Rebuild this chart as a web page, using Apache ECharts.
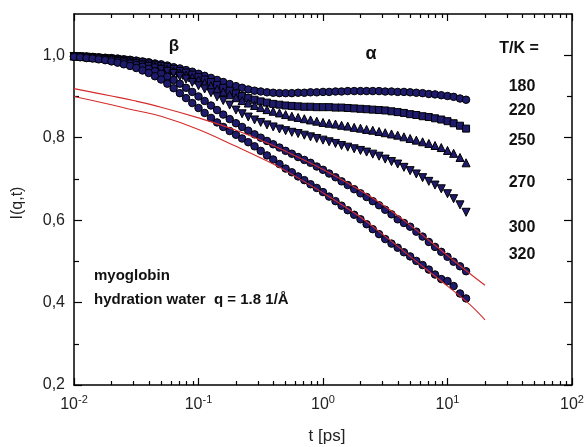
<!DOCTYPE html>
<html><head><meta charset="utf-8">
<script src="https://cdn.jsdelivr.net/npm/echarts@6/dist/echarts.min.js"></script>
<style>html,body{margin:0;padding:0;background:#fff}#c{width:588px;height:447px}</style>
</head><body><div id="c"></div>
<script>
// time grid in ps
const tPs = [0.01,0.0112,0.0126,0.0141,0.0158,0.0178,0.02,0.0224,0.0251,0.0282,
  0.0316,0.0355,0.0398,0.0447,0.0501,0.0562,0.0631,0.0708,0.0794,0.0891,
  0.1,0.112,0.126,0.141,0.158,0.178,0.2,0.224,0.251,0.282,
  0.316,0.355,0.398,0.447,0.501,0.562,0.631,0.708,0.794,0.891,
  1,1.12,1.26,1.41,1.58,1.78,2,2.24,2.51,2.82,
  3.16,3.55,3.98,4.47,5.01,5.62,6.31,7.08,7.94,8.91,
  10,11.2,12.6,14.1];
const I180 = [0.998,0.997,0.997,0.996,0.995,0.994,0.993,0.992,0.990,0.989,
  0.987,0.985,0.983,0.980,0.978,0.975,0.971,0.968,0.964,0.960,
  0.955,0.950,0.945,0.940,0.935,0.930,0.925,0.921,0.917,0.914,
  0.912,0.910,0.909,0.908,0.908,0.908,0.909,0.909,0.910,0.910,
  0.911,0.911,0.912,0.912,0.913,0.913,0.913,0.913,0.913,0.913,
  0.912,0.912,0.911,0.911,0.910,0.909,0.908,0.906,0.905,0.903,
  0.901,0.899,0.895,0.892];
const I220 = [0.998,0.997,0.996,0.995,0.994,0.993,0.992,0.990,0.989,0.987,
  0.985,0.983,0.980,0.977,0.974,0.971,0.967,0.962,0.958,0.953,
  0.947,0.941,0.935,0.928,0.921,0.914,0.907,0.901,0.896,0.892,
  0.888,0.885,0.882,0.880,0.878,0.877,0.876,0.875,0.875,0.874,
  0.874,0.874,0.873,0.873,0.872,0.871,0.870,0.869,0.868,0.867,
  0.866,0.864,0.862,0.860,0.857,0.855,0.852,0.850,0.847,0.844,
  0.840,0.835,0.829,0.822];
const I250 = [0.998,0.997,0.996,0.995,0.993,0.992,0.990,0.988,0.986,0.984,
  0.982,0.979,0.976,0.973,0.970,0.966,0.962,0.957,0.952,0.946,
  0.940,0.933,0.926,0.918,0.911,0.904,0.897,0.890,0.884,0.878,
  0.873,0.868,0.864,0.860,0.856,0.852,0.849,0.846,0.843,0.840,
  0.837,0.835,0.833,0.830,0.828,0.825,0.823,0.820,0.818,0.815,
  0.812,0.809,0.806,0.802,0.798,0.794,0.790,0.786,0.781,0.776,
  0.769,0.762,0.752,0.739];
const I270 = [0.997,0.996,0.995,0.993,0.992,0.990,0.988,0.986,0.984,0.981,
  0.979,0.976,0.973,0.969,0.965,0.961,0.956,0.949,0.942,0.934,
  0.926,0.918,0.909,0.899,0.890,0.879,0.867,0.858,0.850,0.843,
  0.837,0.831,0.826,0.821,0.817,0.813,0.810,0.806,0.802,0.798,
  0.794,0.790,0.786,0.781,0.777,0.773,0.769,0.765,0.760,0.755,
  0.748,0.742,0.736,0.728,0.720,0.712,0.703,0.694,0.685,0.676,
  0.664,0.652,0.637,0.619];
const I300 = [0.997,0.996,0.995,0.994,0.993,0.991,0.989,0.986,0.983,0.980,
  0.976,0.972,0.967,0.961,0.955,0.948,0.940,0.931,0.921,0.911,
  0.900,0.889,0.878,0.867,0.856,0.845,0.835,0.826,0.817,0.808,
  0.800,0.792,0.784,0.776,0.768,0.761,0.753,0.746,0.739,0.730,
  0.722,0.713,0.704,0.694,0.685,0.675,0.665,0.656,0.646,0.636,
  0.625,0.614,0.602,0.593,0.584,0.572,0.560,0.547,0.535,0.523,
  0.511,0.499,0.488,0.476];
const I320 = [0.996,0.995,0.993,0.992,0.990,0.988,0.985,0.982,0.978,0.974,
  0.969,0.963,0.957,0.949,0.941,0.931,0.920,0.908,0.896,0.884,
  0.872,0.860,0.848,0.837,0.826,0.816,0.807,0.798,0.789,0.779,
  0.768,0.757,0.747,0.736,0.725,0.716,0.706,0.697,0.687,0.678,
  0.668,0.657,0.646,0.635,0.624,0.613,0.602,0.590,0.578,0.566,
  0.554,0.543,0.533,0.522,0.512,0.501,0.491,0.480,0.468,0.457,
  0.452,0.440,0.422,0.410];
// fit curves (red)
const fitT = [0.01,0.02,0.03,0.05,0.1,0.2,0.37,0.5,1,2,3,5,10,15,20];
const fit300 = [0.919,0.901,0.890,0.874,0.848,0.818,0.785,0.767,0.723,0.672,0.638,0.588,0.514,0.471,0.442];
const fit320 = [0.900,0.880,0.867,0.852,0.820,0.779,0.741,0.720,0.666,0.607,0.566,0.512,0.440,0.396,0.358];
// ticks
const xDecades = [0.01,0.1,1,10,100];
const xMinor = [0.02,0.03,0.04,0.05,0.06,0.07,0.08,0.09,0.2,0.3,0.4,0.5,0.6,0.7,0.8,0.9,
  2,3,4,5,6,7,8,9,20,30,40,50,60,70,80,90];
const yMajor = [0.2,0.4,0.6,0.8,1.0];
const yMinor = [0.3,0.5,0.7,0.9];
const tempLabels = ['180','220','250','270','300','320'];

const FONT = '"Liberation Sans", Arial, Helvetica, sans-serif';
const lg = v => Math.log10(v);
const pairs = (xs, ys) => xs.map((x, i) => [x, ys[i]]);
const tickLine = {color:'#000', width:1.2};
const axLine = {show:true, onZero:false, lineStyle:{color:'#000', width:1.5}};
const noLine = {show:false, onZero:false};

const chart = echarts.init(document.getElementById('c'));
const mStyle = {color:'#1e1a6c', borderColor:'#000', borderWidth:1, opacity:1};
function sc(data, symbol, rot, size){
  return {type:'scatter', xAxisIndex:0, yAxisIndex:0, data:data, symbol:symbol, symbolRotate:rot||0,
    symbolSize:size, itemStyle:mStyle, z:2, silent:true};
}
const option = {
  animation:false,
  backgroundColor:'#fff',
  grid:{left:74, right:16, top:14, bottom:62, containLabel:false},
  xAxis:[
    {type:'log', logBase:10, min:0.01, max:100, position:'bottom',
     axisLine:axLine,
     axisTick:{show:true, inside:true, length:7, lineStyle:tickLine},
     minorTick:{show:false}, splitLine:{show:false},
     axisLabel:{margin:9, color:'#222', fontFamily:FONT, fontSize:16,
       formatter: v => '10{sup|' + Math.round(Math.log10(v)) + '}',
       rich:{sup:{fontSize:11, fontFamily:FONT, color:'#222', padding:[0,0,10,0]}}}},
    {type:'value', min:-2, max:2, position:'bottom', axisLine:noLine,
     axisTick:{show:true, inside:true, length:4, customValues:xMinor.map(lg), lineStyle:tickLine},
     axisLabel:{show:false}, splitLine:{show:false}},
    {type:'value', min:-2, max:2, position:'top', axisLine:axLine,
     axisTick:{show:true, inside:true, length:7, customValues:xDecades.map(lg), lineStyle:tickLine},
     axisLabel:{show:false}, splitLine:{show:false}},
    {type:'value', min:-2, max:2, position:'top', axisLine:noLine,
     axisTick:{show:true, inside:true, length:4, customValues:xMinor.map(lg), lineStyle:tickLine},
     axisLabel:{show:false}, splitLine:{show:false}}
  ],
  yAxis:[
    {type:'value', min:0.2, max:1.1, position:'left', axisLine:axLine,
     axisTick:{show:true, inside:true, length:8, customValues:yMajor, lineStyle:tickLine},
     axisLabel:{customValues:yMajor, margin:9, color:'#222', fontFamily:FONT, fontSize:16,
       formatter: v => v.toFixed(1).replace('.', ',')},
     splitLine:{show:false}},
    {type:'value', min:0.2, max:1.1, position:'left', axisLine:noLine,
     axisTick:{show:true, inside:true, length:5, customValues:yMinor, lineStyle:tickLine},
     axisLabel:{show:false}, splitLine:{show:false}},
    {type:'value', min:0.2, max:1.1, position:'right', axisLine:axLine,
     axisTick:{show:true, inside:true, length:8, customValues:yMajor, lineStyle:tickLine},
     axisLabel:{show:false}, splitLine:{show:false}},
    {type:'value', min:0.2, max:1.1, position:'right', axisLine:noLine,
     axisTick:{show:true, inside:true, length:5, customValues:yMinor, lineStyle:tickLine},
     axisLabel:{show:false}, splitLine:{show:false}}
  ],
  series:[
    sc(pairs(tPs, I180), 'circle', 0, 7.5),
    sc(pairs(tPs, I220), 'rect', 0, 7),
    sc(pairs(tPs, I250), 'triangle', 0, 8),
    sc(pairs(tPs, I270), 'triangle', 180, 8),
    sc(pairs(tPs, I300), 'circle', 0, 7.5),
    sc(pairs(tPs, I320), 'circle', 0, 7.5),
    {type:'line', xAxisIndex:0, yAxisIndex:0, data:pairs(fitT, fit300), smooth:0.4, showSymbol:false,
     lineStyle:{color:'#d42b2b', width:1.1}, z:5, silent:true},
    {type:'line', xAxisIndex:0, yAxisIndex:0, data:pairs(fitT, fit320), smooth:0.4, showSymbol:false,
     lineStyle:{color:'#d42b2b', width:1.1}, z:5, silent:true}
  ],
  graphic:[
    {type:'text', x:174, y:46, style:{text:'β', font:'bold 17px '+FONT, fill:'#111', textAlign:'center', textVerticalAlign:'middle'}},
    {type:'text', x:371, y:54, style:{text:'α', font:'bold 18px '+FONT, fill:'#111', textAlign:'center', textVerticalAlign:'middle'}},
    {type:'text', x:519, y:49, style:{text:'T/K =', font:'bold 16px '+FONT, fill:'#111', textAlign:'center', textVerticalAlign:'middle'}},
    {type:'text', x:522, y:87, style:{text:tempLabels[0], font:'bold 16px '+FONT, fill:'#111', textAlign:'center', textVerticalAlign:'middle'}},
    {type:'text', x:522, y:111, style:{text:tempLabels[1], font:'bold 16px '+FONT, fill:'#111', textAlign:'center', textVerticalAlign:'middle'}},
    {type:'text', x:522, y:141, style:{text:tempLabels[2], font:'bold 16px '+FONT, fill:'#111', textAlign:'center', textVerticalAlign:'middle'}},
    {type:'text', x:522, y:183, style:{text:tempLabels[3], font:'bold 16px '+FONT, fill:'#111', textAlign:'center', textVerticalAlign:'middle'}},
    {type:'text', x:522, y:228, style:{text:tempLabels[4], font:'bold 16px '+FONT, fill:'#111', textAlign:'center', textVerticalAlign:'middle'}},
    {type:'text', x:522, y:255, style:{text:tempLabels[5], font:'bold 16px '+FONT, fill:'#111', textAlign:'center', textVerticalAlign:'middle'}},
    {type:'text', x:94, y:276, style:{text:'myoglobin', font:'bold 15px '+FONT, fill:'#111', textAlign:'left', textVerticalAlign:'middle'}},
    {type:'text', x:94, y:300, style:{text:'hydration water  q = 1.8 1/Å', font:'bold 15px '+FONT, fill:'#111', textAlign:'left', textVerticalAlign:'middle'}},
    {type:'text', x:18, y:203, rotation:Math.PI/2, style:{text:'I(q,t)', font:'16px '+FONT, fill:'#222', textAlign:'center', textVerticalAlign:'middle'}},
    {type:'text', x:327, y:436, style:{text:'t [ps]', font:'17px '+FONT, fill:'#222', textAlign:'center', textVerticalAlign:'middle'}}
  ]
};
chart.setOption(option);
</script>
</body></html>
